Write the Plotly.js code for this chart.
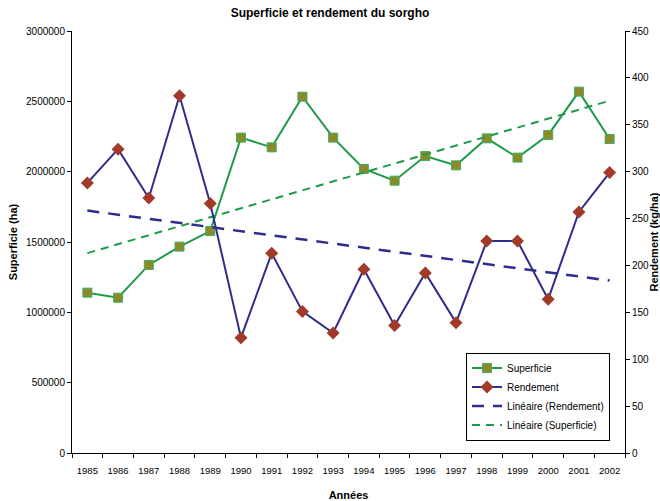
<!DOCTYPE html>
<html>
<head>
<meta charset="utf-8">
<script src="https://cdn.plot.ly/plotly-3.0.1.min.js"></script>
<style>html,body{margin:0;padding:0;background:#fff;}#chart{width:660px;height:501px;}</style>
</head>
<body>
<div id="chart"></div>
<script>
const years = ["1985","1986","1987","1988","1989","1990","1991","1992","1993","1994","1995","1996","1997","1998","1999","2000","2001","2002"];
const superficie = [1140000,1104000,1337000,1467000,1578000,2242000,2173000,2533000,2242000,2019000,1936000,2111000,2045000,2237000,2100000,2261000,2569000,2232000];
const rendement = [288,324,272,381,266,123,213,151,128,196,136,192,139,226,226,164,257,299];
const leftTicks = [0,500000,1000000,1500000,2000000,2500000,3000000];
const rightTicks = [0,50,100,150,200,250,300,350,400,450];

function linfit(ys){
  const n = ys.length; let sx=0, sy=0, sxx=0, sxy=0;
  for(let i=0;i<n;i++){sx+=i; sy+=ys[i]; sxx+=i*i; sxy+=i*ys[i];}
  const b=(n*sxy-sx*sy)/(n*sxx-sx*sx), a=(sy-b*sx)/n;
  return ys.map((_,i)=>a+b*i);
}

const font = "'Liberation Sans', Arial, sans-serif";
const green = '#1e9a48', navy = '#2e2e8a';

const traces = [
  {x: years, y: superficie, name: 'Superficie', type:'scatter', mode:'lines+markers',
   line:{color:green, width:2}, marker:{symbol:'square', size:9, color:'#8a8a2a', line:{color:'#3cb060', width:1}}},
  {x: years, y: rendement, name: 'Rendement', type:'scatter', mode:'lines+markers', yaxis:'y2',
   line:{color:navy, width:2}, marker:{symbol:'diamond', size:10, color:'#a23a2a', line:{color:'#a23a2a', width:0}}},
  {x: years, y: linfit(rendement), name: 'Linéaire (Rendement)', type:'scatter', mode:'lines', yaxis:'y2',
   line:{color:navy, width:2.5, dash:'12px,9px'}},
  {x: years, y: linfit(superficie), name: 'Linéaire (Superficie)', type:'scatter', mode:'lines',
   line:{color:green, width:2, dash:'8px,6px'}}
];

const layout = {
  width:660, height:501,
  margin:{l:72, r:35, t:31, b:48},
  paper_bgcolor:'#fff', plot_bgcolor:'#fff',
  font:{family:font, size:10, color:'#000'},
  title:{text:'<b>Superficie et rendement du sorgho</b>', font:{size:12, family:font}, x:0.5, xanchor:'center', y:0.975, yanchor:'middle'},
  showlegend:true,
  legend:{x:0.7125, y:0.238, xanchor:'left', yanchor:'top', bordercolor:'#000', borderwidth:1, bgcolor:'#fff',
          font:{size:10, family:font}, tracegroupgap:0},
  xaxis:{type:'category', range:[-0.5, 17.5], autorange:false, showgrid:false, zeroline:false, showline:true, linecolor:'#000', linewidth:1,
         ticks:'outside', ticklen:4, tickcolor:'#000', tickson:'boundaries', tickangle:0, tickfont:{size:9.5}, ticklabelstandoff:9,
         title:{text:'<b>Années</b>', font:{size:11, family:font}, standoff:20}},
  yaxis:{range:[0,3000000], tickvals:leftTicks, ticktext:leftTicks.map(String), showgrid:false, zeroline:false,
         showline:true, linecolor:'#000', linewidth:1, ticks:'outside', ticklen:4, tickcolor:'#000', tickfont:{size:10},
         title:{text:'<b>Superficie (ha)</b>', font:{size:11, family:font}, standoff:6}},
  yaxis2:{range:[0,450], tickvals:rightTicks, overlaying:'y', side:'right', showgrid:false, zeroline:false,
          showline:true, linecolor:'#000', linewidth:1, ticks:'outside', ticklen:4, tickcolor:'#000', tickfont:{size:10},
          title:{text:'<b>Rendement (kg/ha)</b>', font:{size:11, family:font}, standoff:8}}
};

Plotly.newPlot('chart', traces, layout, {displayModeBar:false, staticPlot:true});
</script>
</body>
</html>
